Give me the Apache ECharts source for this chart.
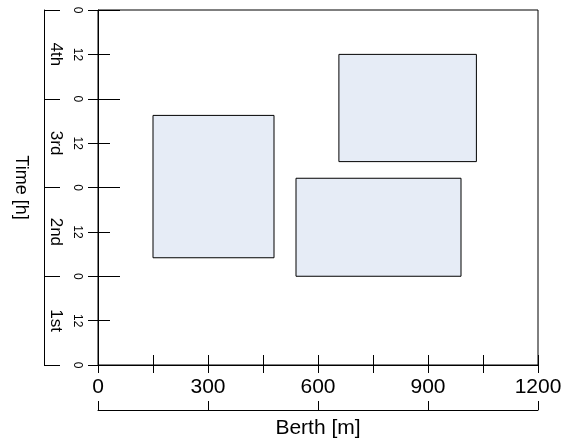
<!DOCTYPE html>
<html>
<head>
<meta charset="utf-8">
<script src="https://cdn.jsdelivr.net/npm/echarts@6/dist/echarts.min.js"></script>
<style>
html,body{margin:0;padding:0;background:#fff;}
#chart{width:564px;height:440px;}
</style>
</head>
<body>
<div id="chart"></div>
<script>
// Data
var berthStart = [150, 540, 657];
var berthEnd   = [480, 990, 1032];
var timeStart  = [29, 24, 55];
var timeEnd    = [67.5, 50.5, 84];
var dayLabels  = ['1st', '2nd', '3rd', '4th'];
var hourLabels = ['0', '12'];
var berthTickLabels = ['0', '300', '600', '900', '1200'];

var FONT = "'Liberation Sans', Arial, sans-serif";
var rects = berthStart.map(function (s, i) { return [s, berthEnd[i], timeStart[i], timeEnd[i]]; });

var chart = echarts.init(document.getElementById('chart'), null, {renderer: 'canvas'});
var lineStyle = {color: '#000', width: 1};

chart.setOption({
  animation: false,
  backgroundColor: '#fff',
  grid: {left: 98, top: 10, width: 440, height: 355, show: true, borderColor: '#000', borderWidth: 1,
         containLabel: false, outerBoundsMode: 'none'},
  xAxis: [
    { type: 'value', min: 0, max: 1200, interval: 150, position: 'bottom',
      axisLine: {show: true, onZero: false, lineStyle: lineStyle},
      axisTick: {show: true, inside: false, length: 8, lineStyle: lineStyle},
      axisLabel: {show: true, margin: 12, fontSize: 21, fontFamily: FONT, color: '#000',
        formatter: function (v) { var s = String(v); return berthTickLabels.indexOf(s) >= 0 ? s : ''; }},
      splitLine: {show: false} },
    { type: 'value', min: 0, max: 1200, interval: 150, position: 'bottom',
      axisLine: {show: false, onZero: false},
      axisTick: {show: true, inside: true, length: 10, lineStyle: lineStyle},
      axisLabel: {show: false}, splitLine: {show: false} },
    { type: 'value', min: 0, max: 1200, interval: 300, position: 'bottom', offset: 45,
      axisLine: {show: true, onZero: false, lineStyle: lineStyle},
      axisTick: {show: true, inside: true, length: 9, lineStyle: lineStyle},
      axisLabel: {show: false}, splitLine: {show: false},
      name: 'Berth [m]', nameLocation: 'middle', nameGap: 8,
      nameTextStyle: {fontSize: 21, fontFamily: FONT, color: '#000', verticalAlign: 'top'} }
  ],
  yAxis: [
    { type: 'value', min: 0, max: 96, interval: 12, position: 'left',
      axisLine: {show: true, onZero: false, lineStyle: lineStyle},
      axisTick: {show: true, inside: false, length: 10, lineStyle: lineStyle},
      axisLabel: {show: true, rotate: -90, margin: 15, fontSize: 12, fontFamily: FONT, color: '#000',
        formatter: function (v) { return hourLabels[(v % 24) / 12]; }},
      splitLine: {show: false} },
    { type: 'value', min: 0, max: 96, interval: 12, position: 'left',
      axisLine: {show: false, onZero: false},
      axisTick: {show: true, inside: true, length: 12, lineStyle: lineStyle},
      axisLabel: {show: false}, splitLine: {show: false} },
    { type: 'value', min: 0, max: 96, interval: 24, position: 'left',
      axisLine: {show: false, onZero: false},
      axisTick: {show: true, inside: true, length: 22, lineStyle: lineStyle},
      axisLabel: {show: false}, splitLine: {show: false} },
    { type: 'category', data: dayLabels, position: 'left', offset: 54, boundaryGap: true,
      axisLine: {show: true, onZero: false, lineStyle: lineStyle},
      axisTick: {show: true, inside: true, length: 16, alignWithLabel: false, lineStyle: lineStyle},
      axisLabel: {show: true, inside: true, rotate: -90, margin: 3, fontSize: 17, fontFamily: FONT, color: '#000'},
      splitLine: {show: false},
      name: 'Time [h]', nameLocation: 'middle', nameGap: 14, nameRotate: -90,
      nameTextStyle: {fontSize: 18, fontFamily: FONT, color: '#000'} }
  ],
  series: [{
    type: 'custom',
    xAxisIndex: 0, yAxisIndex: 0,
    data: rects,
    renderItem: function (params, api) {
      var p0 = api.coord([api.value(0), api.value(3)]);
      var p1 = api.coord([api.value(1), api.value(2)]);
      return {
        type: 'rect',
        shape: {x: p0[0], y: p0[1], width: p1[0] - p0[0], height: p1[1] - p0[1]},
        style: {fill: '#E6ECF6', stroke: '#000', lineWidth: 1}
      };
    }
  }]
});
</script>
</body>
</html>
